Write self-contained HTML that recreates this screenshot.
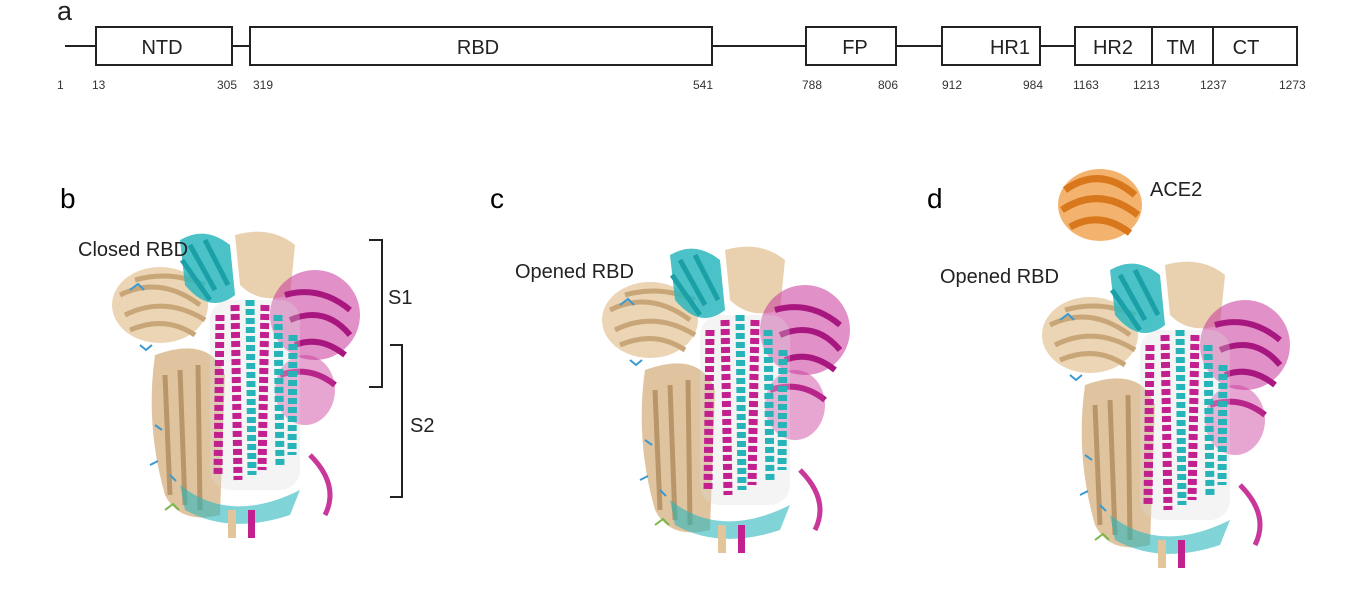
<!DOCTYPE html>
<html><head><meta charset="utf-8"><style>
body{margin:0;width:1359px;height:599px;background:#fff;overflow:hidden;font-family:"Liberation Sans",sans-serif}
svg{position:absolute;left:0;top:0}
</style></head><body>
<svg width="1359" height="599" viewBox="0 0 1359 599">
<defs>
<g id="p">
  <!-- left tan lobe -->
  <ellipse cx="50" cy="80" rx="48" ry="38" fill="#e6cba3" opacity="0.8"/>
  <path d="M10 70 Q50 50 90 80 M15 90 Q55 70 95 95 M20 105 Q55 90 85 110 M25 55 Q60 45 95 60" stroke="#c9a678" stroke-width="5" fill="none"/>
  <!-- top cyan -->
  <path d="M70 15 Q95 0 120 20 L125 70 Q100 90 75 60 Z" fill="#2bb7bd" opacity="0.85"/>
  <path d="M80 20 L105 65 M95 15 L118 60 M72 35 L100 75" stroke="#1aa0a6" stroke-width="5"/>
  <!-- top tan -->
  <path d="M125 10 Q160 0 185 20 L180 70 Q150 80 130 60 Z" fill="#e3c59b" opacity="0.8"/>
  <!-- right magenta lobe -->
  <ellipse cx="205" cy="90" rx="45" ry="45" fill="#c9379a" opacity="0.55"/>
  <path d="M175 70 Q210 60 240 85 M180 95 Q215 80 240 110 M185 120 Q210 110 235 130 M170 150 Q200 140 225 160" stroke="#a8177f" stroke-width="6" fill="none"/>
  <ellipse cx="195" cy="165" rx="30" ry="35" fill="#c9379a" opacity="0.45"/>
  <!-- left lower tan -->
  <path d="M45 130 Q100 110 115 150 L110 290 Q70 300 55 270 Q35 200 45 130 Z" fill="#d8b588" opacity="0.8"/>
  <path d="M55 150 L60 270 M70 145 L75 280 M88 140 L90 285" stroke="#b8966a" stroke-width="5"/>
  <!-- central core -->
  <rect x="100" y="75" width="90" height="190" rx="20" fill="#dcdcdc" opacity="0.3"/>
  <g stroke-width="9" fill="none" stroke-dasharray="6 3">
    <path d="M110 90 L108 250" stroke="#c2208e"/>
    <path d="M125 80 L128 255" stroke="#c2208e"/>
    <path d="M140 75 L142 250" stroke="#26b4b8"/>
    <path d="M155 80 L152 245" stroke="#c2208e"/>
    <path d="M168 90 L170 240" stroke="#26b4b8"/>
    <path d="M183 110 L182 230" stroke="#26b4b8"/>
  </g>
  <!-- bottom -->
  <path d="M70 260 Q120 300 190 265 L180 290 Q120 310 75 285 Z" fill="#2bb7bd" opacity="0.6"/>
  <path d="M200 230 Q230 260 215 290" stroke="#c9379a" stroke-width="5" fill="none"/>
  <rect x="118" y="285" width="8" height="28" fill="#e3c59b"/>
  <rect x="138" y="285" width="7" height="28" fill="#c2208e"/>
  <g stroke="#3a9ad0" stroke-width="2" fill="none">
    <path d="M20 65 l8 -6 l6 6 M30 120 l6 5 l6 -5 M45 200 l7 5 M40 240 l8 -4 M60 250 l6 6"/>
  </g>
  <path d="M55 285 l8 -6 l6 6" stroke="#7ab84a" stroke-width="2" fill="none"/>
</g>
<g id="ace">
  <ellipse cx="0" cy="0" rx="42" ry="36" fill="#f0a04a" opacity="0.8"/>
  <path d="M-35 -15 Q0 -40 35 -10 M-38 5 Q0 -20 38 10 M-30 22 Q0 5 30 28" stroke="#d9771c" stroke-width="7" fill="none"/>
</g>
</defs>

<text x="57" y="20" font-size="27" fill="#222">a</text>
<line x1="65" y1="46" x2="1075" y2="46" stroke="#222" stroke-width="2"/>
<g fill="#fff" stroke="#222" stroke-width="2">
  <rect x="96" y="27" width="136" height="38"/>
  <rect x="250" y="27" width="462" height="38"/>
  <rect x="806" y="27" width="90" height="38"/>
  <rect x="942" y="27" width="98" height="38"/>
  <rect x="1075" y="27" width="222" height="38"/>
  <line x1="1152" y1="27" x2="1152" y2="65"/>
  <line x1="1213" y1="27" x2="1213" y2="65"/>
</g>
<g font-size="20" fill="#222" text-anchor="middle">
  <text x="162" y="54">NTD</text>
  <text x="478" y="54">RBD</text>
  <text x="855" y="54">FP</text>
  <text x="1010" y="54">HR1</text>
  <text x="1113" y="54">HR2</text>
  <text x="1181" y="54">TM</text>
  <text x="1246" y="54">CT</text>
</g>
<g font-size="12" fill="#333">
  <text x="57" y="89">1</text>
  <text x="92" y="89">13</text>
  <text x="217" y="89">305</text>
  <text x="253" y="89">319</text>
  <text x="693" y="89">541</text>
  <text x="802" y="89">788</text>
  <text x="878" y="89">806</text>
  <text x="942" y="89">912</text>
  <text x="1023" y="89">984</text>
  <text x="1073" y="89">1163</text>
  <text x="1133" y="89">1213</text>
  <text x="1200" y="89">1237</text>
  <text x="1279" y="89">1273</text>
</g>

<text x="60" y="208" font-size="28" fill="#000">b</text>
<text x="490" y="208" font-size="28" fill="#000">c</text>
<text x="927" y="208" font-size="28" fill="#000">d</text>

<use href="#p" x="110" y="225"/>
<use href="#p" x="600" y="240"/>
<use href="#p" x="1040" y="255"/>
<use href="#ace" x="1100" y="205"/>

<g font-size="20" fill="#222">
  <text x="78" y="256">Closed RBD</text>
  <text x="515" y="278">Opened RBD</text>
  <text x="940" y="283">Opened RBD</text>
  <text x="1150" y="196">ACE2</text>
  <text x="388" y="304">S1</text>
  <text x="410" y="432">S2</text>
</g>
<g stroke="#222" stroke-width="2" fill="none">
  <path d="M369 240 H382 V387 H369"/>
  <path d="M390 345 H402 V497 H390"/>
</g>
</svg>
</body></html>
